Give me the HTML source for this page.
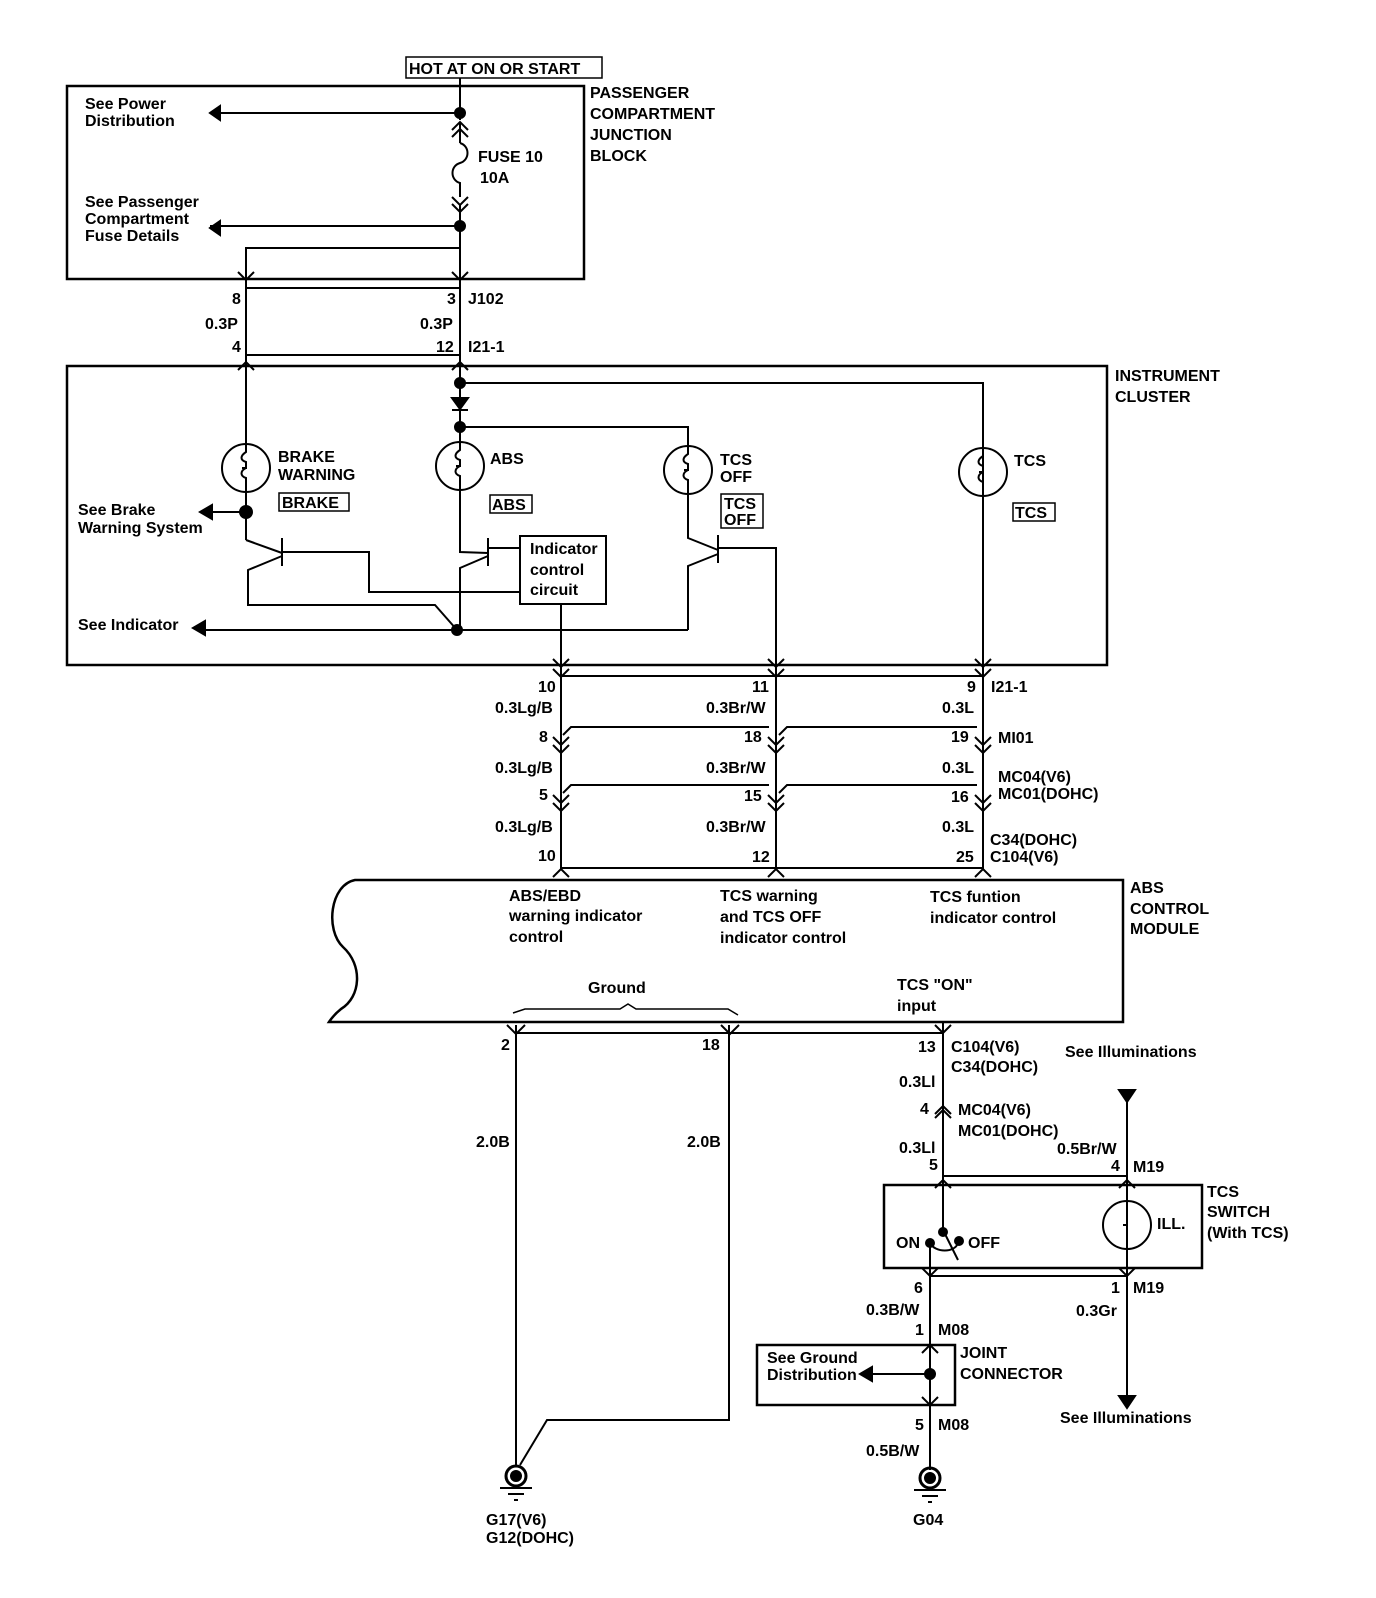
<!DOCTYPE html>
<html><head><meta charset="utf-8"><style>
html,body{margin:0;padding:0;background:#fff}
svg{display:block}
text{font-family:"Liberation Sans",sans-serif;font-size:16px;font-weight:bold;fill:#000}
</style></head><body>
<svg width="1376" height="1598" viewBox="0 0 1376 1598" xmlns="http://www.w3.org/2000/svg" fill="none" stroke="#000" stroke-width="2">
<!-- Header -->
<rect x="406" y="57" width="196" height="21" stroke-width="1.5"/>
<text x="409" y="74" stroke="none">HOT AT ON OR START</text>
<!-- Junction block -->
<rect x="67" y="86" width="517" height="193" stroke-width="2.5"/>
<text x="590" y="98" stroke="none">PASSENGER</text>
<text x="590" y="119" stroke="none">COMPARTMENT</text>
<text x="590" y="140" stroke="none">JUNCTION</text>
<text x="590" y="161" stroke="none">BLOCK</text>
<text x="85" y="109" stroke="none">See Power</text>
<text x="85" y="126" stroke="none">Distribution</text>
<text x="85" y="207" stroke="none">See Passenger</text>
<text x="85" y="224" stroke="none">Compartment</text>
<text x="85" y="241" stroke="none">Fuse Details</text>
<path d="M460 78V120 M460 205V290 M460 113H210 M460 226H210"/>
<path d="M210 113l10-7v14z M210 228l10-7v14z" fill="#000"/>
<circle cx="460" cy="113" r="5" fill="#000"/>
<circle cx="460" cy="226" r="5" fill="#000"/>
<path d="M452 130l8-8 8 8 M452 137l8-8 8 8 M460 122V143 M460 143c10 3 10 17 0 20 c-10 3-10 17 0 20 V197 M452 197l8 8 8-8 M452 204l8 8 8-8"/>
<text x="478" y="162" stroke="none">FUSE 10</text>
<text x="480" y="183" stroke="none">10A</text>
<path d="M460 248H246V280"/>
<!-- J102 / I21-1 connectors -->
<path d="M238 272l8 8 8-8 M452 272l8 8 8-8 M246 288H460 M246 280V370 M460 290V370 M238 370l8-8 8 8 M452 370l8-8 8 8 M246 355H460"/>
<text x="232" y="304" stroke="none">8</text><text x="447" y="304" stroke="none">3</text><text x="468" y="304" stroke="none">J102</text>
<text x="205" y="329" stroke="none">0.3P</text><text x="420" y="329" stroke="none">0.3P</text>
<text x="232" y="352" stroke="none">4</text><text x="436" y="352" stroke="none">12</text><text x="468" y="352" stroke="none">I21-1</text>
<!-- Instrument cluster -->
<rect x="67" y="366" width="1040" height="299" stroke-width="2.5"/>
<text x="1115" y="381" stroke="none">INSTRUMENT</text>
<text x="1115" y="402" stroke="none">CLUSTER</text>
<path d="M460 370V445 M460 383H983V665 M460 427H688V448"/>
<circle cx="460" cy="383" r="5" fill="#000"/>
<circle cx="460" cy="427" r="5" fill="#000"/>
<path d="M452 398h16l-8 11z" fill="#000"/><path d="M452 410h16"/>
<!-- bulbs -->
<g>
<circle cx="246" cy="468" r="24"/><path d="M246 370V452c-6 4-6 8 0 10v6c-6 3-6 8 0 10V540"/><path d="M242 468h5"/>
<circle cx="460" cy="466" r="24"/><path d="M460 445V450c-6 4-6 8 0 10v6c-6 3-6 8 0 10V545"/><path d="M456 466h5"/>
<circle cx="688" cy="470" r="24"/><path d="M688 448V454c-6 4-6 8 0 10v6c-6 3-6 8 0 10V530"/><path d="M684 470h5"/>
<circle cx="983" cy="472" r="24"/><path d="M983 383V456c-6 4-6 8 0 10v6c-6 3-6 8 0 10V496"/><path d="M979 472h5"/>
</g>
<text x="278" y="462" stroke="none">BRAKE</text><text x="278" y="480" stroke="none">WARNING</text>
<rect x="279" y="493" width="70" height="18" stroke-width="1.5"/><text x="282" y="508" stroke="none">BRAKE</text>
<text x="490" y="464" stroke="none">ABS</text>
<rect x="490" y="495" width="42" height="18" stroke-width="1.5"/><text x="492" y="510" stroke="none">ABS</text>
<text x="720" y="465" stroke="none">TCS</text><text x="720" y="482" stroke="none">OFF</text>
<rect x="721" y="494" width="42" height="34" stroke-width="1.5"/><text x="724" y="509" stroke="none">TCS</text><text x="724" y="525" stroke="none">OFF</text>
<text x="1014" y="466" stroke="none">TCS</text>
<rect x="1013" y="503" width="42" height="18" stroke-width="1.5"/><text x="1015" y="518" stroke="none">TCS</text>
<text x="78" y="515" stroke="none">See Brake</text><text x="78" y="533" stroke="none">Warning System</text>
<path d="M246 512H210"/><path d="M200 512l12-7v14z" fill="#000"/><circle cx="246" cy="512" r="6" fill="#000"/>
<!-- transistors -->
<path d="M246 540L282 553 M282 538V566 M282 552H369V592H520 M282 556L248 570 V605H435L457 630"/>
<path d="M460 545V552L488 553 M488 538V566 M488 548H520 M488 556L460 568V630"/>
<path d="M688 530V538L718 550 M718 535V563 M718 548H776V665 M718 554L688 566V630"/>
<rect x="520" y="536" width="86" height="68"/>
<text x="530" y="554" stroke="none">Indicator</text><text x="530" y="575" stroke="none">control</text><text x="530" y="595" stroke="none">circuit</text>
<path d="M561 604V665"/>
<text x="78" y="630" stroke="none">See Indicator</text>
<path d="M688 630H205"/><path d="M193 628l12-7v14z" fill="#000"/><circle cx="457" cy="630" r="5" fill="#000"/>
<!-- cluster output connectors -->
<path d="M553 659l8 8 8-8 M768 659l8 8 8-8 M975 659l8 8 8-8 M553 669l8 8 8-8 M768 669l8 8 8-8 M975 669l8 8 8-8 M561 676H983 M561 665V870 M776 665V870 M983 665V870"/>
<path d="M553 737l8 8 8-8 M768 737l8 8 8-8 M975 737l8 8 8-8 M553 745l8 8 8-8 M768 745l8 8 8-8 M975 745l8 8 8-8 M563 735l8-8H769 M779 735l8-8H977"/>
<path d="M553 795l8 8 8-8 M768 795l8 8 8-8 M975 795l8 8 8-8 M553 803l8 8 8-8 M768 803l8 8 8-8 M975 803l8 8 8-8 M563 793l8-8H769 M779 793l8-8H977"/>
<g stroke="none">
<text x="538" y="692">10</text><text x="752" y="692">11</text><text x="967" y="692">9</text><text x="991" y="692">I21-1</text>
<text x="495" y="713">0.3Lg/B</text><text x="706" y="713">0.3Br/W</text><text x="942" y="713">0.3L</text>
<text x="539" y="742">8</text><text x="744" y="742">18</text><text x="951" y="742">19</text><text x="998" y="743">MI01</text>
<text x="495" y="773">0.3Lg/B</text><text x="706" y="773">0.3Br/W</text><text x="942" y="773">0.3L</text>
<text x="998" y="782">MC04(V6)</text><text x="998" y="799">MC01(DOHC)</text>
<text x="539" y="800">5</text><text x="744" y="801">15</text><text x="951" y="802">16</text>
<text x="495" y="832">0.3Lg/B</text><text x="706" y="832">0.3Br/W</text><text x="942" y="832">0.3L</text>
<text x="990" y="845">C34(DOHC)</text><text x="990" y="862">C104(V6)</text>
<text x="538" y="861">10</text><text x="752" y="862">12</text><text x="956" y="862">25</text>
</g>
<path d="M561 868H983 M553 877l8-8 8 8 M768 877l8-8 8 8 M975 877l8-8 8 8"/>
<!-- ABS module -->
<path d="M1123 880H355c-25 5-30 50-12 67 20 18 18 50-2 62-5 4-10 10-12 13H1123Z" stroke-width="2.5"/>
<text x="1130" y="893" stroke="none">ABS</text><text x="1130" y="914" stroke="none">CONTROL</text><text x="1130" y="934" stroke="none">MODULE</text>
<g stroke="none">
<text x="509" y="901">ABS/EBD</text><text x="509" y="921">warning indicator</text><text x="509" y="942">control</text>
<text x="720" y="901">TCS warning</text><text x="720" y="922">and TCS OFF</text><text x="720" y="943">indicator control</text>
<text x="930" y="902">TCS funtion</text><text x="930" y="923">indicator control</text>
<text x="588" y="993">Ground</text>
<text x="897" y="990">TCS "ON"</text><text x="897" y="1011">input</text>
</g>
<path d="M513 1013l12-4H620l8-5 8 5H728l10 6" stroke-width="1.5"/>
<!-- grounds -->
<path d="M507 1025l9 9 9-9 M721 1025l9 9 9-9 M935 1025l8 8 8-8 M516 1033H943 M516 1025V1465 M729 1025V1420H547L520 1465 M943 1023V1180"/>
<g stroke="none">
<text x="501" y="1050">2</text><text x="702" y="1050">18</text><text x="918" y="1052">13</text>
<text x="951" y="1052">C104(V6)</text><text x="951" y="1072">C34(DOHC)</text>
<text x="1065" y="1057">See Illuminations</text>
<text x="476" y="1147">2.0B</text><text x="687" y="1147">2.0B</text>
<text x="899" y="1087">0.3Ll</text><text x="920" y="1114">4</text>
<text x="958" y="1115">MC04(V6)</text><text x="958" y="1136">MC01(DOHC)</text>
<text x="899" y="1153">0.3Ll</text><text x="929" y="1170">5</text>
<text x="1057" y="1154">0.5Br/W</text><text x="1111" y="1171">4</text><text x="1133" y="1172">M19</text>
</g>
<path d="M935 1114l8-8 8 8 M935 1118l8-8 8 8"/>
<path d="M1127 1100V1400"/><path d="M1119 1090h16l-8 12z M1119 1396h16l-8 12z" fill="#000"/>
<!-- TCS switch -->
<path d="M943 1176H1127 M935 1188l8-8 8 8 M1119 1188l8-8 8 8"/>
<rect x="884" y="1185" width="318" height="83" stroke-width="2.5"/>
<text x="1207" y="1197" stroke="none">TCS</text><text x="1207" y="1217" stroke="none">SWITCH</text><text x="1207" y="1238" stroke="none">(With TCS)</text>
<path d="M943 1180V1230L958 1260 M930 1242V1270 M930 1243c5 10 25 10 28 0"/>
<circle cx="943" cy="1232" r="4" fill="#000"/><circle cx="930" cy="1243" r="4" fill="#000"/><circle cx="959" cy="1241" r="4" fill="#000"/>
<text x="896" y="1248" stroke="none">ON</text><text x="968" y="1248" stroke="none">OFF</text>
<circle cx="1127" cy="1225" r="24"/><path d="M1123 1225h5"/>
<text x="1157" y="1229" stroke="none">ILL.</text>
<path d="M922 1268l8 8 8-8 M1119 1268l8 8 8-8 M930 1276H1127 M930 1270V1470"/>
<g stroke="none">
<text x="914" y="1293">6</text><text x="1111" y="1293">1</text><text x="1133" y="1293">M19</text>
<text x="866" y="1315">0.3B/W</text><text x="1076" y="1316">0.3Gr</text>
<text x="915" y="1335">1</text><text x="938" y="1335">M08</text>
<text x="960" y="1358">JOINT</text><text x="960" y="1379">CONNECTOR</text>
<text x="1060" y="1423">See Illuminations</text>
<text x="767" y="1363">See Ground</text><text x="767" y="1380">Distribution</text>
<text x="915" y="1430">5</text><text x="938" y="1430">M08</text>
<text x="866" y="1456">0.5B/W</text>
<text x="486" y="1525">G17(V6)</text><text x="486" y="1543">G12(DOHC)</text>
<text x="913" y="1525">G04</text>
</g>
<rect x="757" y="1345" width="198" height="60" stroke-width="2.5"/>
<path d="M922 1353l8-8 8 8 M922 1397l8 8 8-8 M930 1374H870"/>
<path d="M860 1374l12-7v14z" fill="#000"/><circle cx="930" cy="1374" r="5" fill="#000"/>
<circle cx="516" cy="1476" r="10" stroke-width="3"/><circle cx="516" cy="1476" r="5" fill="#000"/>
<path d="M500 1488H532 M508 1494H524 M514 1500H518"/>
<circle cx="930" cy="1478" r="10" stroke-width="3"/><circle cx="930" cy="1478" r="5" fill="#000"/>
<path d="M914 1490H946 M922 1496H938 M928 1502H932"/>
</svg>
</body></html>
